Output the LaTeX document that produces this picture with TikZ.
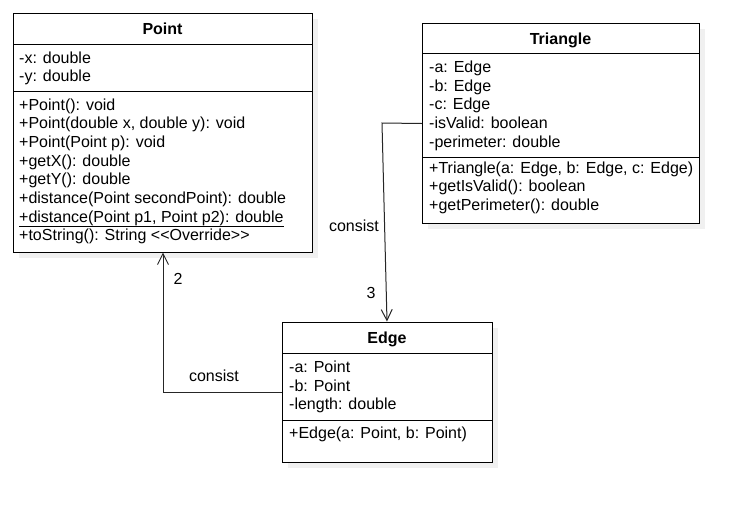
\documentclass[tikz,border=0pt]{standalone}
\usepackage{fontspec}
\setmainfont{Liberation Sans}
\usetikzlibrary{arrows.meta}
\newcommand{\ulx}[1]{\setbox0\hbox{#1}\rlap{\rule[-4.4pt]{\wd0}{0.9pt}}\box0}
\begin{document}
\begin{tikzpicture}[x=1pt,y=-1pt,
  txt/.style={anchor=base west, inner sep=0pt, font=\fontsize{16}{18.7}\selectfont},
  ttl/.style={anchor=base, inner sep=0pt, font=\fontsize{16}{18.7}\selectfont\bfseries},
  lbl/.style={inner sep=0pt, font=\fontsize{16}{18.7}\selectfont},
  cls/.style={draw=black, line width=1pt, fill=white, inner sep=0pt, anchor=north west},
  sep/.style={draw=black, line width=1pt},
  shd/.style={fill=black!6, draw=none},
  conn/.style={draw=black!85, line width=1pt},
  arr/.style={-{Straight Barb[length=11pt,width=11pt,line width=1pt]}}
]
\fill[white] (0,0) rectangle (748,512);
\useasboundingbox (0,0) rectangle (748,512);

% ---------- Point ----------
\fill[shd] (19,19) rectangle (318,258);
\node[cls, minimum width=299pt, minimum height=239pt] (point) at (13,13) {};
\draw[sep] (13,44) -- (312,44);
\draw[sep] (13,91) -- (312,91);
\node[ttl] (pt-t) at (162.5,34.6) {Point};
\node[txt] (pt-a1) at (19,63.5) {-x: double};
\node[txt] (pt-a2) at (19,81.5) {-y: double};
\node[txt] (pt-m1) at (19,110) {+Point(): void};
\node[txt] (pt-m2) at (19,128.7) {+Point(double x, double y): void};
\node[txt] (pt-m3) at (19,147.4) {+Point(Point p): void};
\node[txt] (pt-m4) at (19,166.1) {+getX(): double};
\node[txt] (pt-m5) at (19,184.8) {+getY(): double};
\node[txt] (pt-m6) at (19,203.5) {+distance(Point secondPoint): double};
\node[txt] (pt-m7) at (19,222.2) {\ulx{+distance(Point p1, Point p2): double}};
\node[txt] (pt-m8) at (19,240.9) {+toString(): String <{}<Override>{}>};

% ---------- Triangle ----------
\fill[shd] (428,29) rectangle (705,229);
\node[cls, minimum width=277pt, minimum height=200pt] (tri) at (422,23) {};
\draw[sep] (422,53) -- (699,53);
\draw[sep] (422,157) -- (699,157);
\node[ttl] (tr-t) at (560.5,44) {Triangle};
\node[txt] (tr-a1) at (429,72.5) {-a: Edge};
\node[txt] (tr-a2) at (429,91.2) {-b: Edge};
\node[txt] (tr-a3) at (429,109.9) {-c: Edge};
\node[txt] (tr-a4) at (429,128.6) {-isValid: boolean};
\node[txt] (tr-a5) at (429,147.3) {-perimeter: double};
\node[txt] (tr-m1) at (429,173) {+Triangle(a: Edge, b: Edge, c: Edge)};
\node[txt] (tr-m2) at (429,191.7) {+getIsValid(): boolean};
\node[txt] (tr-m3) at (429,210.4) {+getPerimeter(): double};

% ---------- Edge ----------
\fill[shd] (288,328) rectangle (498,468);
\node[cls, minimum width=210pt, minimum height=140pt] (edge) at (282,322) {};
\draw[sep] (282,353) -- (492,353);
\draw[sep] (282,420) -- (492,420);
\node[ttl] (ed-t) at (387,343.6) {Edge};
\node[txt] (ed-a1) at (289,372.5) {-a: Point};
\node[txt] (ed-a2) at (289,391.2) {-b: Point};
\node[txt] (ed-a3) at (289,409.9) {-length: double};
\node[txt] (ed-m1) at (289,438) {+Edge(a: Point, b: Point)};

% ---------- connectors ----------
\coordinate (pe) at (163,252.5);
\draw[conn, arr] (edge.west) -| (pe);
\coordinate (tk) at (382,123);
\coordinate (te) at (387,321.5);
\draw[conn, arr] (tri.west) -- (tk) -- (te);

\node[lbl] (l-2) at (178,279) {2};
\node[lbl] (l-c1) at (214,376) {consist};
\node[lbl] (l-c2) at (354,226) {consist};
\node[lbl] (l-3) at (371,293) {3};
\end{tikzpicture}
\end{document}
